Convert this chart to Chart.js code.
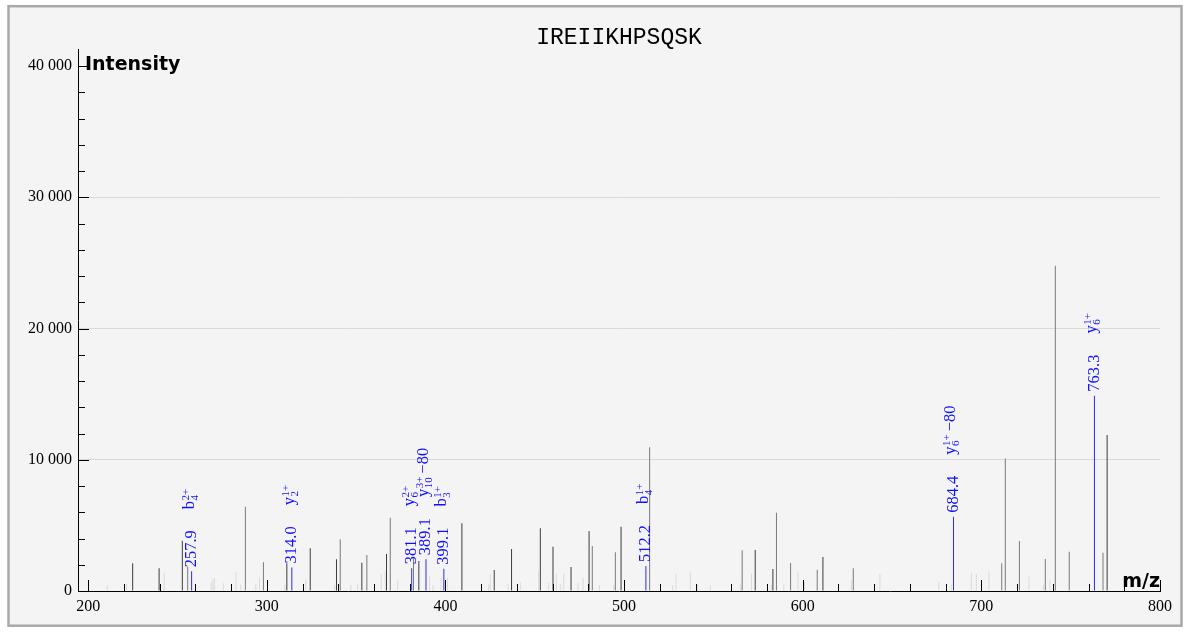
<!DOCTYPE html>
<html>
<head>
<meta charset="utf-8">
<title>IREIIKHPSQSK</title>
<script src="https://cdn.jsdelivr.net/npm/chart.js@4.4.1/dist/chart.umd.min.js"></script>
<style>
  html, body { margin: 0; padding: 0; background: #fff; }
  canvas { display: block; }
</style>
</head>
<body>
<canvas id="spectrum" width="1190" height="634"></canvas>
<script>
// peptide and axis ranges
const peptide = 'IREIIKHPSQSK';
const mzMin = 194.3;
const mzMax = 800;
const intensityMax = 41300;
const mzTickLabels = [200, 300, 400, 500, 600, 700, 800];
const intensityTickLabels = [0, 10000, 20000, 30000, 40000];

// low, unassigned noise peaks
const noiseMz = [210.7, 221.5, 242.6, 268.8, 269.8, 270.6, 275.7, 282.8, 285.4, 293.8, 295.9,
  310.1, 321.9, 337.9, 347.1, 350.8, 364.0, 366.3, 373.2, 391.1, 393.0, 397.5, 401.2,
  424.2, 425.1, 435.0, 441.9, 452.2, 457.8, 462.1, 464.3, 466.2, 474.2, 477.0, 486.2, 494.2,
  527.2, 529.1, 537.1, 541.2, 548.3, 565.2, 571.3, 582.4, 589.4, 597.3, 601.0, 627.2,
  643.2, 676.2, 683.2, 694.4, 697.2, 704.3, 726.7, 734.7, 738.4];
const noiseIntensity = [460, 560, 1400, 650, 900, 1000, 600, 1420, 500, 550, 990,
  500, 890, 500, 460, 550, 1300, 1500, 800, 1150, 460, 1000, 1000,
  500, 1300, 550, 650, 1500, 630, 1300, 550, 1300, 630, 1000, 460, 460,
  460, 1280, 1400, 460, 460, 550, 1300, 500, 500, 1500, 630, 840,
  1290, 650, 500, 1400, 1300, 1500, 1100, 500, 800];

// unassigned peaks, lighter stroke
const grayMz = [255.7, 288.0, 298.1, 341.1, 356.0, 369.1, 382.1, 482.2, 495.1, 514.3,
  566.1, 585.3, 593.2, 608.1, 628.3, 711.4, 713.4, 721.3, 735.8, 741.4, 749.2, 768.1];
const grayIntensity = [1850, 6420, 2190, 3940, 2740, 5590, 2460, 3430, 2950, 10950,
  3100, 5970, 2130, 1620, 1730, 2110, 10100, 3810, 2440, 24780, 3000, 2920];

// unassigned peaks, darker stroke
const darkMz = [224.9, 239.7, 252.7, 311.2, 324.3, 339.0, 353.2, 367.0, 385.1, 409.2,
  427.3, 437.0, 453.1, 460.2, 470.3, 480.4, 498.3, 573.4, 583.3, 611.3, 770.4];
const darkIntensity = [2110, 1730, 3830, 2110, 3250, 2410, 2160, 2820, 2290, 5160,
  1600, 3200, 4780, 3380, 1830, 4570, 4900, 3120, 1680, 2590, 11880];

// matched fragment ions
const ionMz = [257.9, 314.0, 381.1, 389.1, 399.1, 512.2, 684.4, 763.3];
const ionIntensity = [1500, 1800, 1730, 2420, 1700, 1900, 5650, 14880];
const ionType = ['b', 'y', 'y', 'y', 'b', 'b', 'y', 'y'];
const ionIndex = ['4', '2', '6', '10', '3', '4', '6', '6'];
const ionCharge = ['2+', '1+', '2+', '3+', '1+', '1+', '1+', '1+'];
const ionLoss = ['', '', '', '\u221280', '', '', '\u221280', ''];

const toPoints = (xs, ys) => xs.map((x, i) => ({ x: x, y: ys[i] }));
const groupThousands = v => String(v).replace(/\B(?=(\d{3})+(?!\d))/g, ' ');

// grey panel with a border behind everything
const frame = {
  id: 'frame',
  beforeDraw(chart) {
    const ctx = chart.ctx;
    ctx.save();
    ctx.fillStyle = '#fff';
    ctx.fillRect(0, 0, chart.width, chart.height);
    ctx.fillStyle = '#f4f4f4';
    ctx.fillRect(8, 6, 1174, 620);
    ctx.strokeStyle = '#a9a9a9';
    ctx.lineWidth = 2.5;
    ctx.strokeRect(8.5, 6.2, 1173, 619.5);
    ctx.restore();
  }
};

// inward tick marks, titles and the ion annotations
const marks = {
  id: 'marks',
  afterDatasetsDraw(chart) {
    const { ctx, chartArea: a, scales: { x, y } } = chart;
    ctx.save();

    ctx.strokeStyle = '#000';
    ctx.lineWidth = 1;
    ctx.beginPath();
    for (let v = 0; v <= 40000; v += 2000) {
      const py = Math.round(y.getPixelForValue(v)) + 0.5;
      ctx.moveTo(a.left, py);
      ctx.lineTo(a.left + (v % 10000 === 0 ? 11 : 7), py);
    }
    for (let v = 200; v <= 800; v += 20) {
      const px = Math.round(x.getPixelForValue(v)) + 0.5;
      ctx.moveTo(px, a.bottom);
      ctx.lineTo(px, a.bottom - (v % 100 === 0 ? 11 : 7));
    }
    ctx.stroke();

    ctx.fillStyle = '#000';
    ctx.textBaseline = 'alphabetic';
    ctx.font = '23px "Liberation Mono"';
    ctx.textAlign = 'center';
    ctx.fillText(peptide, (a.left + a.right) / 2, 44);

    ctx.font = 'bold 19px "DejaVu Sans"';
    ctx.textAlign = 'left';
    ctx.fillText('Intensity', 85, 70);
    ctx.textAlign = 'right';
    ctx.fillText('m/z', a.right, 587);

    const mainFont = '16.5px "Liberation Serif"';
    const scriptFont = '11px "Liberation Serif"';
    ctx.fillStyle = '#1010ff';
    ctx.textAlign = 'left';
    ionMz.forEach((mz, i) => {
      const px = x.getPixelForValue(mz);
      const top = y.getPixelForValue(ionIntensity[i]);
      const num = mz.toFixed(1);
      ctx.save();
      ctx.translate(px, top - 4);
      ctx.rotate(-Math.PI / 2);
      ctx.font = mainFont;
      ctx.textBaseline = 'middle';
      ctx.fillText(num, 0, 0);
      let pos = ctx.measureText(num).width + 21;
      ctx.textBaseline = 'alphabetic';
      ctx.fillText(ionType[i], pos, 2);
      pos += ctx.measureText(ionType[i]).width + 0.5;
      ctx.font = scriptFont;
      ctx.fillText(ionCharge[i], pos, -3);
      ctx.fillText(ionIndex[i], pos, 6);
      pos += Math.max(ctx.measureText(ionCharge[i]).width, ctx.measureText(ionIndex[i]).width);
      if (ionLoss[i]) {
        ctx.font = mainFont;
        ctx.fillText(ionLoss[i], pos + 3, 2);
      }
      ctx.restore();
    });

    ctx.restore();
  }
};

const tickFont = { family: 'Liberation Serif', size: 16 };

new Chart(document.getElementById('spectrum'), {
  type: 'bar',
  data: {
    datasets: [
      { label: 'noise', data: toPoints(noiseMz, noiseIntensity), backgroundColor: '#dadada' },
      { label: 'peaks', data: toPoints(grayMz, grayIntensity), backgroundColor: '#7a7a7a' },
      { label: 'peaks (dark)', data: toPoints(darkMz, darkIntensity), backgroundColor: '#3c3c3c' },
      { label: 'matched', data: toPoints(ionMz, ionIntensity), backgroundColor: '#2b2bff' }
    ]
  },
  options: {
    responsive: false,
    animation: false,
    events: [],
    layout: { padding: { left: 0, right: 30, top: 49, bottom: 0 } },
    datasets: {
      bar: { barThickness: 1, grouped: false, borderWidth: 0, inflateAmount: 0 }
    },
    plugins: {
      legend: { display: false },
      tooltip: { enabled: false }
    },
    scales: {
      x: {
        type: 'linear',
        offset: false,
        min: mzMin,
        max: mzMax,
        afterBuildTicks: s => { s.ticks = mzTickLabels.map(v => ({ value: v })); },
        afterFit: s => { s.height = 43; },
        grid: { display: false, drawTicks: false },
        border: { display: true, color: '#000', width: 1 },
        ticks: { autoSkip: false, maxRotation: 0, padding: 6, color: '#000', font: tickFont }
      },
      y: {
        type: 'linear',
        min: 0,
        max: intensityMax,
        afterBuildTicks: s => { s.ticks = intensityTickLabels.map(v => ({ value: v })); },
        afterFit: s => { s.width = 78; },
        grid: {
          drawTicks: false,
          color: c => (c.tick && c.tick.value > 0 && c.tick.value < 40000) ? '#d9d9d9' : 'rgba(0,0,0,0)'
        },
        border: { display: true, color: '#000', width: 1 },
        ticks: {
          autoSkip: false,
          padding: 6,
          color: '#000',
          font: tickFont,
          callback: v => groupThousands(v)
        }
      }
    }
  },
  plugins: [frame, marks]
});
</script>
</body>
</html>
